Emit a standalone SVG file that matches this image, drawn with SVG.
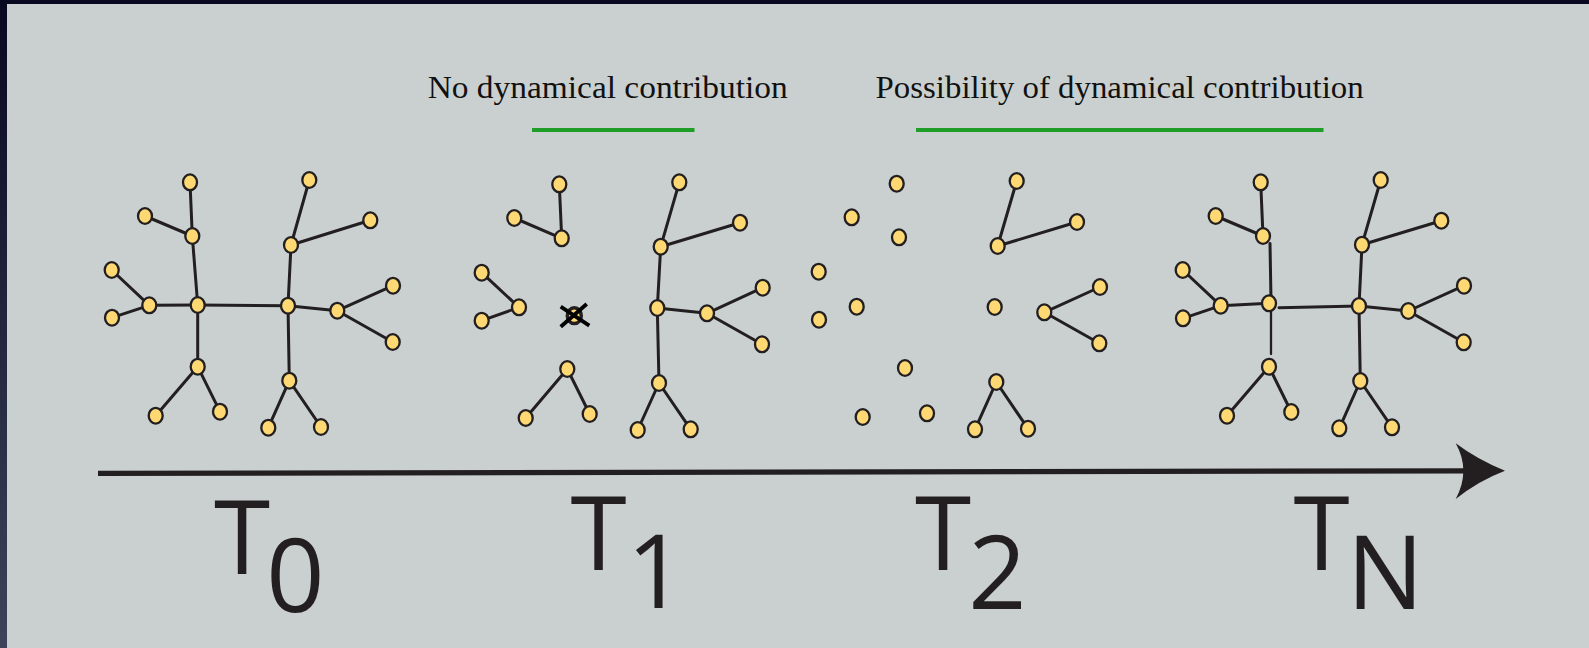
<svg xmlns="http://www.w3.org/2000/svg" width="1589" height="648" viewBox="0 0 1589 648">
<defs>
<linearGradient id="lg" x1="0" y1="0" x2="0" y2="1"><stop offset="0" stop-color="#080820"/><stop offset="1" stop-color="#3d4359"/></linearGradient>
<style>
.e{stroke:#231f20;stroke-width:3;stroke-linecap:round;fill:none}
.n ellipse{fill:#fdd873;stroke:#231f20;stroke-width:2.3}
.lab{font-family:"Open Sans","Liberation Sans",sans-serif;font-size:102px;fill:#231f20}
.cap{font-family:"Liberation Serif",serif;font-size:31px;fill:#111}
.g{stroke:#1f9e27;stroke-width:4}
</style>
</defs>
<rect width="1589" height="648" fill="#cad0d0"/>
<rect x="0" y="0" width="7" height="648" fill="url(#lg)"/>
<rect x="0" y="0" width="1589" height="4" fill="#080820"/>

<g id="captions">
<text class="cap" x="427.7" y="97.5" textLength="360" lengthAdjust="spacingAndGlyphs">No dynamical contribution</text>
<text class="cap" x="875.6" y="97.5" textLength="488" lengthAdjust="spacingAndGlyphs">Possibility of dynamical contribution</text>
<line class="g" x1="532" y1="130" x2="694.5" y2="130"/>
<line class="g" x1="916" y1="130" x2="1323.5" y2="130"/>
</g>

<g id="connectors">
<!-- T0 -->
<line class="e" x1="190" y1="182.3" x2="192.3" y2="236"/>
<line class="e" x1="145" y1="216" x2="192.3" y2="236"/>
<line class="e" x1="192.3" y1="236" x2="197.7" y2="305"/>
<line class="e" x1="111.7" y1="270" x2="149.3" y2="305.3"/>
<line class="e" x1="112" y1="317.7" x2="149.3" y2="305.3"/>
<line class="e" x1="149.3" y1="305.3" x2="197.7" y2="305"/>
<line class="e" x1="197.7" y1="305" x2="197.7" y2="366.7"/>
<line class="e" x1="197.7" y1="366.7" x2="155.7" y2="415.7"/>
<line class="e" x1="197.7" y1="366.7" x2="220" y2="411.7"/>
<line class="e" x1="197.7" y1="305" x2="288" y2="305.7"/>
<line class="e" x1="288" y1="305.7" x2="291" y2="245"/>
<line class="e" x1="291" y1="245" x2="309.3" y2="180"/>
<line class="e" x1="291" y1="245" x2="370.3" y2="220.3"/>
<line class="e" x1="288" y1="305.7" x2="337.3" y2="310.7"/>
<line class="e" x1="337.3" y1="310.7" x2="393" y2="285.7"/>
<line class="e" x1="337.3" y1="310.7" x2="392.7" y2="342"/>
<line class="e" x1="288" y1="305.7" x2="289.3" y2="380.7"/>
<line class="e" x1="289.3" y1="380.7" x2="268.3" y2="427.7"/>
<line class="e" x1="289.3" y1="380.7" x2="321" y2="427"/>
<!-- T1 -->
<line class="e" x1="559.3" y1="184.3" x2="561.7" y2="238.3"/>
<line class="e" x1="514.3" y1="218" x2="561.7" y2="238.3"/>
<line class="e" x1="481.7" y1="272.7" x2="519" y2="307.3"/>
<line class="e" x1="481.7" y1="320.7" x2="519" y2="307.3"/>
<line class="e" x1="567.3" y1="369" x2="525.7" y2="418"/>
<line class="e" x1="567.3" y1="369" x2="589.7" y2="414"/>
<line class="e" x1="679.3" y1="182.3" x2="660.7" y2="246.7"/>
<line class="e" x1="660.7" y1="246.7" x2="740" y2="222.7"/>
<line class="e" x1="660.7" y1="246.7" x2="657.3" y2="308"/>
<line class="e" x1="657.3" y1="308" x2="707" y2="313.3"/>
<line class="e" x1="707" y1="313.3" x2="762.7" y2="287.7"/>
<line class="e" x1="707" y1="313.3" x2="762" y2="344.3"/>
<line class="e" x1="657.3" y1="308" x2="659" y2="383"/>
<line class="e" x1="659" y1="383" x2="637.7" y2="430"/>
<line class="e" x1="659" y1="383" x2="690.7" y2="429.3"/>
<!-- T2 -->
<line class="e" x1="1016.7" y1="181" x2="997.7" y2="246"/>
<line class="e" x1="997.7" y1="246" x2="1077" y2="222"/>
<line class="e" x1="1044.3" y1="312.3" x2="1100" y2="287"/>
<line class="e" x1="1044.3" y1="312.3" x2="1099.3" y2="343.3"/>
<line class="e" x1="996.3" y1="382" x2="975" y2="429.3"/>
<line class="e" x1="996.3" y1="382" x2="1028" y2="428.7"/>
<!-- TN -->
<line class="e" x1="1260.7" y1="182.3" x2="1263" y2="236"/>
<line class="e" x1="1215.7" y1="216" x2="1263" y2="236"/>
<line class="e" x1="1270" y1="243.5" x2="1271" y2="300"/>
<line class="e" x1="1182.7" y1="270" x2="1220.7" y2="305.7"/>
<line class="e" x1="1183" y1="318.3" x2="1220.7" y2="305.7"/>
<line class="e" x1="1220.7" y1="305.7" x2="1269" y2="303.3"/>
<line class="e" x1="1271" y1="312" x2="1271" y2="354" style="stroke-width:2.3"/>
<line class="e" x1="1269" y1="366.7" x2="1227" y2="415.7"/>
<line class="e" x1="1269" y1="366.7" x2="1291.3" y2="412"/>
<line class="e" x1="1279" y1="307.7" x2="1359" y2="306"/>
<line class="e" x1="1359" y1="306" x2="1362" y2="244.7"/>
<line class="e" x1="1362" y1="244.7" x2="1380.7" y2="180"/>
<line class="e" x1="1362" y1="244.7" x2="1441.3" y2="220.7"/>
<line class="e" x1="1359" y1="306" x2="1408.3" y2="311"/>
<line class="e" x1="1408.3" y1="311" x2="1464" y2="285.7"/>
<line class="e" x1="1408.3" y1="311" x2="1463.7" y2="342.3"/>
<line class="e" x1="1359" y1="306" x2="1360.3" y2="381"/>
<line class="e" x1="1360.3" y1="381" x2="1339.3" y2="428.3"/>
<line class="e" x1="1360.3" y1="381" x2="1392" y2="427.3"/>
<!-- time axis -->
<line x1="98" y1="473.4" x2="1470" y2="470.8" stroke="#231f20" stroke-width="5.3"/>
<path d="M1505 470.7 Q1478 460 1455.7 443.3 Q1471 470.7 1455.7 499 Q1478 481 1505 470.7Z" fill="#231f20"/>
</g>

<g id="t0" class="n">
<g id="t0-a"><ellipse cx="190" cy="182.3" rx="7" ry="7.9"/></g>
<g id="t0-b"><ellipse cx="145" cy="216" rx="7" ry="7.9"/></g>
<g id="t0-c"><ellipse cx="192.3" cy="236" rx="7" ry="7.9"/></g>
<g id="t0-d"><ellipse cx="111.7" cy="270" rx="7" ry="7.9"/></g>
<g id="t0-e"><ellipse cx="112" cy="317.7" rx="7" ry="7.9"/></g>
<g id="t0-f"><ellipse cx="149.3" cy="305.3" rx="7" ry="7.9"/></g>
<g id="t0-g"><ellipse cx="197.7" cy="305" rx="7" ry="7.9"/></g>
<g id="t0-h"><ellipse cx="197.7" cy="366.7" rx="7" ry="7.9"/></g>
<g id="t0-i"><ellipse cx="155.7" cy="415.7" rx="7" ry="7.9"/></g>
<g id="t0-j"><ellipse cx="220" cy="411.7" rx="7" ry="7.9"/></g>
<g id="t0-k"><ellipse cx="288" cy="305.7" rx="7" ry="7.9"/></g>
<g id="t0-l"><ellipse cx="291" cy="245" rx="7" ry="7.9"/></g>
<g id="t0-m"><ellipse cx="309.3" cy="180" rx="7" ry="7.9"/></g>
<g id="t0-n"><ellipse cx="370.3" cy="220.3" rx="7" ry="7.9"/></g>
<g id="t0-o"><ellipse cx="337.3" cy="310.7" rx="7" ry="7.9"/></g>
<g id="t0-p"><ellipse cx="393" cy="285.7" rx="7" ry="7.9"/></g>
<g id="t0-q"><ellipse cx="392.7" cy="342" rx="7" ry="7.9"/></g>
<g id="t0-r"><ellipse cx="289.3" cy="380.7" rx="7" ry="7.9"/></g>
<g id="t0-s"><ellipse cx="268.3" cy="427.7" rx="7" ry="7.9"/></g>
<g id="t0-t"><ellipse cx="321" cy="427" rx="7" ry="7.9"/></g>
</g>

<g id="t1" class="n">
<g id="t1-a"><ellipse cx="559.3" cy="184.3" rx="7" ry="7.9"/></g>
<g id="t1-b"><ellipse cx="514.3" cy="218" rx="7" ry="7.9"/></g>
<g id="t1-c"><ellipse cx="561.7" cy="238.3" rx="7" ry="7.9"/></g>
<g id="t1-d"><ellipse cx="481.7" cy="272.7" rx="7" ry="7.9"/></g>
<g id="t1-e"><ellipse cx="481.7" cy="320.7" rx="7" ry="7.9"/></g>
<g id="t1-f"><ellipse cx="519" cy="307.3" rx="7" ry="7.9"/></g>
<g id="t1-x"><ellipse cx="574.3" cy="315.7" rx="7" ry="7.9" style="stroke-width:3.5"/><path d="M560.7 326.7 L586.7 304 M560.7 306.7 L589.3 325.7" stroke="#000" stroke-width="3.8" fill="none"/></g>
<g id="t1-h"><ellipse cx="567.3" cy="369" rx="7" ry="7.9"/></g>
<g id="t1-i"><ellipse cx="525.7" cy="418" rx="7" ry="7.9"/></g>
<g id="t1-j"><ellipse cx="589.7" cy="414" rx="7" ry="7.9"/></g>
<g id="t1-k"><ellipse cx="657.3" cy="308" rx="7" ry="7.9"/></g>
<g id="t1-l"><ellipse cx="660.7" cy="246.7" rx="7" ry="7.9"/></g>
<g id="t1-m"><ellipse cx="679.3" cy="182.3" rx="7" ry="7.9"/></g>
<g id="t1-n"><ellipse cx="740" cy="222.7" rx="7" ry="7.9"/></g>
<g id="t1-o"><ellipse cx="707" cy="313.3" rx="7" ry="7.9"/></g>
<g id="t1-p"><ellipse cx="762.7" cy="287.7" rx="7" ry="7.9"/></g>
<g id="t1-q"><ellipse cx="762" cy="344.3" rx="7" ry="7.9"/></g>
<g id="t1-r"><ellipse cx="659" cy="383" rx="7" ry="7.9"/></g>
<g id="t1-s"><ellipse cx="637.7" cy="430" rx="7" ry="7.9"/></g>
<g id="t1-t"><ellipse cx="690.7" cy="429.3" rx="7" ry="7.9"/></g>
</g>

<g id="t2" class="n">
<g id="t2-a"><ellipse cx="896.7" cy="183.7" rx="7" ry="7.9"/></g>
<g id="t2-b"><ellipse cx="851.7" cy="217.3" rx="7" ry="7.9"/></g>
<g id="t2-c"><ellipse cx="899" cy="237.3" rx="7" ry="7.9"/></g>
<g id="t2-d"><ellipse cx="818.7" cy="271.7" rx="7" ry="7.9"/></g>
<g id="t2-e"><ellipse cx="819" cy="319.7" rx="7" ry="7.9"/></g>
<g id="t2-f"><ellipse cx="856.7" cy="306.7" rx="7" ry="7.9"/></g>
<g id="t2-h"><ellipse cx="905" cy="368" rx="7" ry="7.9"/></g>
<g id="t2-i"><ellipse cx="862.7" cy="417" rx="7" ry="7.9"/></g>
<g id="t2-j"><ellipse cx="927" cy="413.3" rx="7" ry="7.9"/></g>
<g id="t2-k"><ellipse cx="994.7" cy="307" rx="7" ry="7.9"/></g>
<g id="t2-l"><ellipse cx="997.7" cy="246" rx="7" ry="7.9"/></g>
<g id="t2-m"><ellipse cx="1016.7" cy="181" rx="7" ry="7.9"/></g>
<g id="t2-n"><ellipse cx="1077" cy="222" rx="7" ry="7.9"/></g>
<g id="t2-o"><ellipse cx="1044.3" cy="312.3" rx="7" ry="7.9"/></g>
<g id="t2-p"><ellipse cx="1100" cy="287" rx="7" ry="7.9"/></g>
<g id="t2-q"><ellipse cx="1099.3" cy="343.3" rx="7" ry="7.9"/></g>
<g id="t2-r"><ellipse cx="996.3" cy="382" rx="7" ry="7.9"/></g>
<g id="t2-s"><ellipse cx="975" cy="429.3" rx="7" ry="7.9"/></g>
<g id="t2-t"><ellipse cx="1028" cy="428.7" rx="7" ry="7.9"/></g>
</g>

<g id="tn" class="n">
<g id="tn-a"><ellipse cx="1260.7" cy="182.3" rx="7" ry="7.9"/></g>
<g id="tn-b"><ellipse cx="1215.7" cy="216" rx="7" ry="7.9"/></g>
<g id="tn-c"><ellipse cx="1263" cy="236" rx="7" ry="7.9"/></g>
<g id="tn-d"><ellipse cx="1182.7" cy="270" rx="7" ry="7.9"/></g>
<g id="tn-e"><ellipse cx="1183" cy="318.3" rx="7" ry="7.9"/></g>
<g id="tn-f"><ellipse cx="1220.7" cy="305.7" rx="7" ry="7.9"/></g>
<g id="tn-g"><ellipse cx="1269" cy="303.3" rx="7" ry="7.9"/></g>
<g id="tn-h"><ellipse cx="1269" cy="366.7" rx="7" ry="7.9"/></g>
<g id="tn-i"><ellipse cx="1227" cy="415.7" rx="7" ry="7.9"/></g>
<g id="tn-j"><ellipse cx="1291.3" cy="412" rx="7" ry="7.9"/></g>
<g id="tn-k"><ellipse cx="1359" cy="306" rx="7" ry="7.9"/></g>
<g id="tn-l"><ellipse cx="1362" cy="244.7" rx="7" ry="7.9"/></g>
<g id="tn-m"><ellipse cx="1380.7" cy="180" rx="7" ry="7.9"/></g>
<g id="tn-n"><ellipse cx="1441.3" cy="220.7" rx="7" ry="7.9"/></g>
<g id="tn-o"><ellipse cx="1408.3" cy="311" rx="7" ry="7.9"/></g>
<g id="tn-p"><ellipse cx="1464" cy="285.7" rx="7" ry="7.9"/></g>
<g id="tn-q"><ellipse cx="1463.7" cy="342.3" rx="7" ry="7.9"/></g>
<g id="tn-r"><ellipse cx="1360.3" cy="381" rx="7" ry="7.9"/></g>
<g id="tn-s"><ellipse cx="1339.3" cy="428.3" rx="7" ry="7.9"/></g>
<g id="tn-t"><ellipse cx="1392" cy="427.3" rx="7" ry="7.9"/></g>
</g>

<g id="labels">
<text class="lab" x="214" y="574">T<tspan dx="-4" dy="38">0</tspan></text>
<text class="lab" x="570.5" y="570">T<tspan dy="38.3">1</tspan></text>
<text class="lab" x="915" y="570">T<tspan dx="-3" dy="39">2</tspan></text>
<text class="lab" x="1293.5" y="570">T<tspan dx="-3" dy="38.7">N</tspan></text>
</g>
</svg>
